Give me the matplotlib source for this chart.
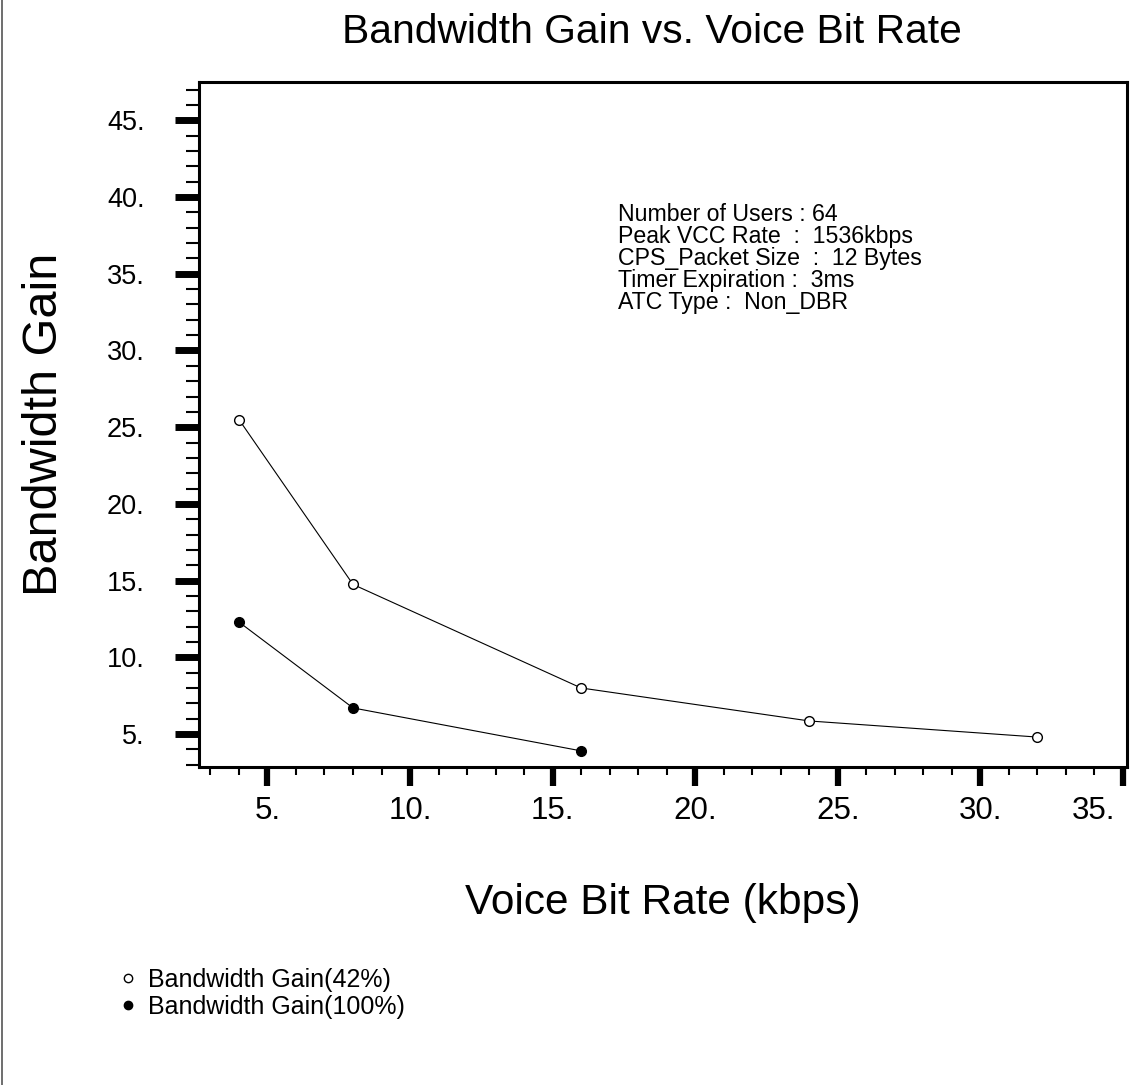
import matplotlib
matplotlib.use("Agg")
import matplotlib.pyplot as plt
import matplotlib.transforms as mtransforms
from matplotlib.lines import Line2D
from matplotlib.ticker import MultipleLocator, FuncFormatter

plt.rcParams['font.family'] = ['Liberation Sans', 'DejaVu Sans']

# data
rate_42 = [4, 8, 16, 24, 32]
gain_42 = [25.5, 14.75, 8.0, 5.85, 4.8]
rate_100 = [4, 8, 16]
gain_100 = [12.3, 6.7, 3.9]

info_lines = ["Number of Users : 64",
              "Peak VCC Rate  :  1536kbps",
              "CPS_Packet Size  :  12 Bytes",
              "Timer Expiration :  3ms",
              "ATC Type :  Non_DBR"]

fig = plt.figure(figsize=(11.34, 10.85), dpi=100)
ax = fig.add_axes([0.1755, 0.2931, 0.8183, 0.6313])

ax.plot(rate_42, gain_42, color='black', lw=0.8, marker='o', ms=7,
        mfc='white', mec='black', mew=1.0)
ax.plot(rate_100, gain_100, color='black', lw=0.8, marker='o', ms=7,
        mfc='black', mec='black')

ax.set_xlim(2.6, 35.14)
ax.set_ylim(2.85, 47.5)

for s in ax.spines.values():
    s.set_linewidth(2.2)

fmt = FuncFormatter(lambda v, p: f"{int(round(v))}.")
ax.xaxis.set_major_locator(MultipleLocator(5))
ax.xaxis.set_minor_locator(MultipleLocator(1))
ax.yaxis.set_major_locator(MultipleLocator(5))
ax.yaxis.set_minor_locator(MultipleLocator(1))
ax.xaxis.set_major_formatter(fmt)
ax.yaxis.set_major_formatter(fmt)

ax.tick_params(axis='x', which='major', direction='out', length=14, width=4.5,
               labelsize=22.5, pad=7)
ax.tick_params(axis='x', which='minor', direction='out', length=6, width=1.5)
ax.tick_params(axis='y', which='major', direction='out', length=17, width=5,
               labelsize=19.5, pad=22)
ax.tick_params(axis='y', which='minor', direction='out', length=9.5, width=1.5)

ax.set_xlabel("Voice Bit Rate (kbps)", fontsize=30.5, labelpad=41)
ax.set_ylabel("Bandwidth Gain", fontsize=35, labelpad=29)
fig.suptitle("Bandwidth Gain vs. Voice Bit Rate", fontsize=29.3, x=0.575, y=0.988)

# last x label sits inside the frame edge
fig.canvas.draw()
shift = mtransforms.ScaledTranslation(-8 / 100, 0, fig.dpi_scale_trans)
for t in ax.xaxis.get_major_ticks():
    if t.label1.get_text() == "35.":
        t.label1.set_horizontalalignment('right')
        t.label1.set_transform(t.label1.get_transform() + shift)

fig.text(0.545, 0.813, "\n".join(info_lines), fontsize=16.7, va='top',
         ha='left', linespacing=0.95)

# legend shows markers only
handles = [Line2D([], [], ls='none', marker='o', ms=6, mfc='white', mec='black'),
           Line2D([], [], ls='none', marker='o', ms=6, mfc='black', mec='black')]
fig.legend(handles, ['Bandwidth Gain(42%)', 'Bandwidth Gain(100%)'],
           loc='upper left', bbox_to_anchor=(0.1, 0.117), frameon=False,
           fontsize=18, handlelength=0.4, handletextpad=0.6,
           labelspacing=0.12, borderaxespad=0)

fig.add_artist(Line2D([0.002, 0.002], [0, 1], transform=fig.transFigure,
                      color='#555555', lw=1.2))

fig.savefig("out.png", dpi=100)
